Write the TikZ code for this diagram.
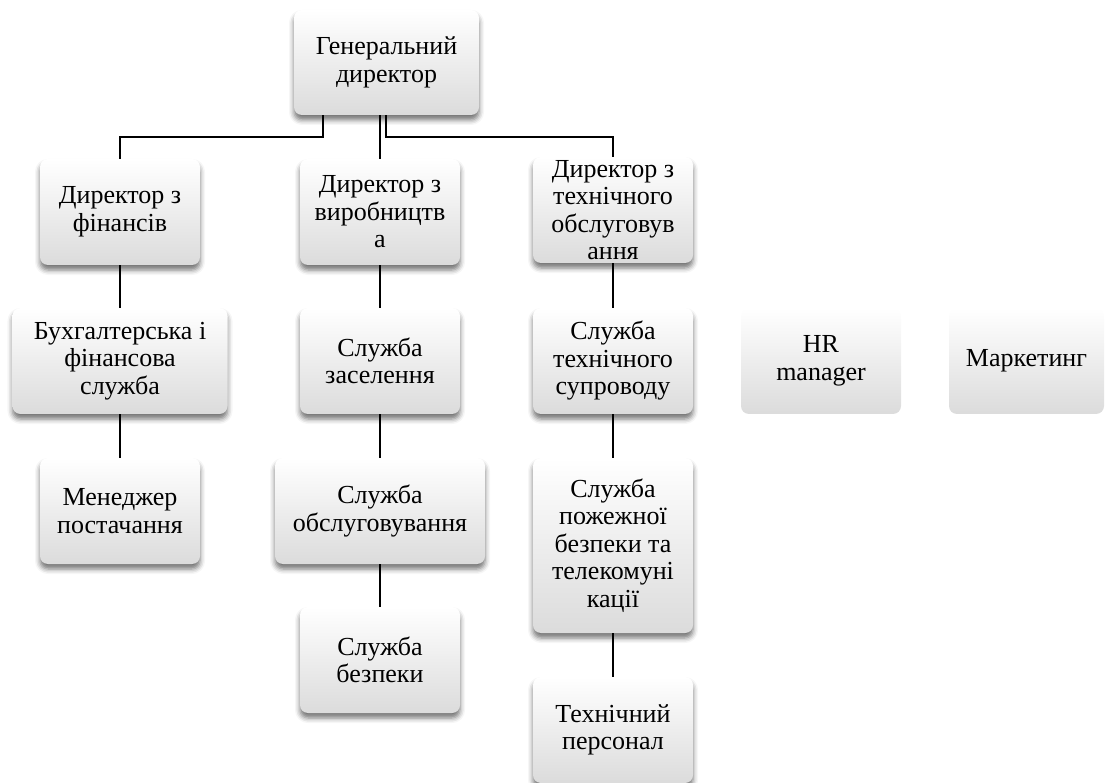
\documentclass[tikz,border=0pt]{standalone}
\usepackage{fontspec}
\setmainfont{Liberation Serif}
\newfontfamily\lserif{Liberation Serif}
\usetikzlibrary{shadows.blur}
\tikzset{
  orgbox/.style={rounded corners=8pt, inner sep=0pt, align=center,
    top color=white, middle color=white!96!black, bottom color=black!14,
    font=\lserif\fontsize{26}{27.5}\selectfont,
    minimum width=160pt, minimum height=106pt},
  shadowed/.style={blur shadow={shadow xshift=0pt, shadow yshift=-5pt,
    shadow blur radius=5pt, shadow opacity=55}},
  link/.style={draw=black, line width=2pt}
}
\begin{document}
\begin{tikzpicture}[x=1pt,y=-1pt]
\useasboundingbox (0,0) rectangle (1106,783);
\node[orgbox,shadowed,minimum width=185pt,minimum height=105pt] (gen) at (386.5,62.5) {Генеральний\\директор};
\node[orgbox,shadowed] (dfin) at (120,212) {Директор з\\фінансів};
\node[orgbox,shadowed] (dvir) at (380,212) {Директор з\\виробництв\\а};
\node[orgbox,shadowed] (dteh) at (613,210) {Директор з\\технічного\\обслуговув\\ання};
\node[orgbox,shadowed,minimum width=215pt] (buh) at (120,361) {Бухгалтерська і\\фінансова\\служба};
\node[orgbox,shadowed] (zas) at (380,361) {Служба\\заселення};
\node[orgbox,shadowed] (supr) at (613,361) {Служба\\технічного\\супроводу};
\node[orgbox] (hr) at (821,361) {HR\\manager};
\node[orgbox,minimum width=155pt] (mark) at (1026.5,361) {Маркетинг};
\node[orgbox,shadowed] (men) at (120,511) {Менеджер\\постачання};
\node[orgbox,shadowed,minimum width=210pt] (obs) at (380,511) {Служба\\обслуговування};
\node[orgbox,shadowed,minimum height=175pt] (pozh) at (613,545.5) {Служба\\пожежної\\безпеки та\\телекомуні\\кації};
\node[orgbox,shadowed] (bezp) at (380,660) {Служба\\безпеки};
\node[orgbox,shadowed] (tper) at (613,730) {Технічний\\персонал};
\draw[link] ([xshift=-63.5pt]gen.south) -- ++(0,22) -| (dfin.north);
\draw[link] ([xshift=-6.5pt]gen.south) -- (dvir.north);
\draw[link] ([xshift=-0.5pt]gen.south) -- ++(0,22) -| (dteh.north);
\draw[link] (dfin.south) -- (buh.north);
\draw[link] (buh.south) -- (men.north);
\draw[link] (dvir.south) -- (zas.north);
\draw[link] (zas.south) -- (obs.north);
\draw[link] (obs.south) -- (bezp.north);
\draw[link] (dteh.south) -- (supr.north);
\draw[link] (supr.south) -- (pozh.north);
\draw[link] (pozh.south) -- (tper.north);
\end{tikzpicture}
\end{document}
